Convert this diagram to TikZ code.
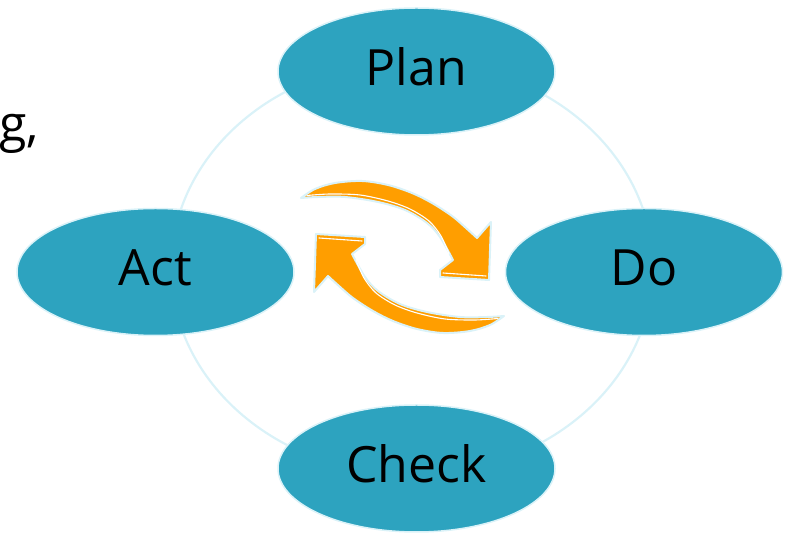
\documentclass[tikz,border=0pt]{standalone}
\usepackage{fontspec}
\setmainfont{Open Sans}
\usetikzlibrary{shapes.geometric}
\definecolor{tealfill}{RGB}{45,163,191}
\definecolor{paleline}{RGB}{218,242,248}
\definecolor{arroworange}{RGB}{255,158,0}
\tikzset{
  phase/.style={ellipse, fill=tealfill, draw=paleline, line width=1.5pt,
    minimum width=277pt, minimum height=127pt, inner sep=0pt,
    text height=28pt, text depth=0pt, text=black,
    font=\fontsize{50}{60}\selectfont},
  ringline/.style={draw=paleline, line width=2.2pt},
  blockarrow/.style={fill=arroworange, draw=paleline, line width=2pt, line join=round},
  shine/.style={draw=white, line width=1.1pt, line cap=round},
  slidetext/.style={anchor=base east, inner sep=0pt, font=\fontsize{50}{60}\selectfont}
}
\newcommand\pdcaarrow{%
  \filldraw[blockarrow] plot[smooth, tension=0.55] coordinates {(301,337) (315,346) (335,352) (362,354) (388,350) (412,342) (432,332) (452,319) (466,307) (477,297)}
    -- (491,313) -- (489,255) -- (440,258) -- (440,265) -- (453,275)
    -- plot[smooth, tension=0.55] coordinates {(453,275) (440,298) (427,312) (405,325) (378,333) (345,338) (318,338) (301,337)} -- cycle;
  \draw[shine] plot[smooth] coordinates {(307,339.5) (330,341) (360,340) (388,334) (410,326) (429,314) (441,299) (449,281)};
  \draw[shine] (443,262) -- (486,259);
}
\begin{document}
\begin{tikzpicture}[x=1pt, y=1pt]
\useasboundingbox (0,0) rectangle (788,535);
\coordinate (ringc) at (412,267);
% ring connectors
\draw[ringline] (ringc) ++(58:241pt and 207pt) arc[start angle=58, end angle=14, x radius=241pt, y radius=207pt];
\draw[ringline] (ringc) ++(-14:241pt and 207pt) arc[start angle=-14, end angle=-58, x radius=241pt, y radius=207pt];
\draw[ringline] (ringc) ++(-120:241pt and 207pt) arc[start angle=-120, end angle=-166, x radius=241pt, y radius=207pt];
\draw[ringline] (ringc) ++(166:241pt and 207pt) arc[start angle=166, end angle=120, x radius=241pt, y radius=207pt];
% phases
\node[phase] (plan) at (416.5,463.5) {Plan};
\node[phase] (do) at (644,263) {Do};
\node[phase] (check) at (416.5,66.5) {Check};
\node[phase] (act) at (155.5,263) {Act};
% slide text fragment
\node[slidetext] (frag) at (39,393) {g,};
% central cycle arrows
\pdcaarrow
\begin{scope}[rotate around={180:(402.5,278)}]
\pdcaarrow
\end{scope}
\end{tikzpicture}
\end{document}
